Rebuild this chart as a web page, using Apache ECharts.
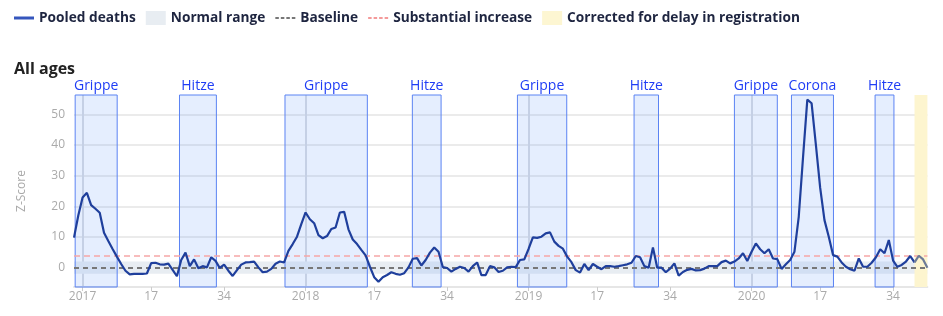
<!DOCTYPE html>
<html><head><meta charset="utf-8">
<script src="https://cdn.jsdelivr.net/npm/echarts@6/dist/echarts.min.js"></script>
<style>html,body{margin:0;padding:0;background:#fff}#c{width:943px;height:316px}</style>
</head><body><div id="c"></div>
<script>
// ISO weeks from 2016-W51 to 2020-W42
const weeksPerYear = {2016: 52, 2017: 52, 2018: 52, 2019: 52, 2020: 53};
const weeks = [];
(function () {
  let y = 2016, w = 51;
  while (!(y === 2020 && w > 42)) {
    weeks.push(y + '-W' + String(w).padStart(2, '0'));
    w++;
    if (w > weeksPerYear[y]) { y++; w = 1; }
  }
})();

const zscores = [
  9.8, 17.0, 22.9, 24.4, 20.4, 19.2, 17.9, 11.4, 8.7, 6.1,
  3.6, 1.2, -1.0, -2.2, -2.0, -2.0, -2.0, -1.9, 1.5, 1.6,
  1.1, 1.0, 1.3, -0.7, -2.8, 2.5, 4.9, 0.5, 2.7, -0.2,
  0.5, 0.1, 3.4, 2.2, -0.1, 1.0, -1.0, -2.7, -0.8, 1.0,
  1.7, 1.8, 2.0, 0.1, -1.5, -1.3, -0.4, 1.3, 2.0, 1.7,
  5.5, 7.7, 10.1, 14.2, 18.0, 15.8, 14.5, 10.6, 9.6, 10.3,
  12.6, 13.1, 18.0, 18.2, 12.5, 9.2, 7.7, 5.8, 4.0, 0.3,
  -3.1, -4.6, -3.1, -2.4, -1.5, -2.0, -2.3, -1.8, 0.1, 2.9,
  3.1, 0.7, 2.5, 4.9, 6.6, 5.2, 0.2, -0.1, -1.3, -0.4,
  0.3, -0.1, -1.3, 0.5, 1.7, -2.4, -2.4, 0.5, 0.1, -1.4,
  -1.0, 0.1, 0.3, 0.2, 2.5, 2.7, 6.1, 9.9, 9.7, 10.1,
  11.2, 11.5, 8.5, 7.1, 6.2, 3.6, 1.8, -0.8, -1.6, 1.2,
  -0.8, 1.2, 0.3, -0.5, 0.5, 0.5, 0.3, 0.5, 0.8, 1.1,
  1.6, 3.8, 3.4, 0.5, 0.0, 6.6, 0.0, 0.0, -1.5, -0.3,
  1.4, -2.6, -1.4, -0.7, -0.4, -0.9, -0.8, -0.3, 0.5, 0.5,
  0.5, 1.8, 2.3, 1.4, 2.0, 3.0, 4.7, 2.2, 5.2, 7.9,
  6.0, 4.7, 6.0, 3.0, 2.8, -0.4, 1.1, 2.5, 5.2, 16.6,
  36.0, 54.8, 53.6, 40.0, 26.0, 15.5, 10.1, 4.1, 3.6, 1.7,
  0.3, -0.5, -1.0, 3.0, 0.3, 0.3, 1.6, 3.4, 6.0, 4.7,
  9.0, 2.3, 0.3, 0.9, 2.0, 3.8, 1.7, 3.9, 2.7, 0.0
];

const tickWeeks = ['2017-W01','2017-W17','2017-W34','2018-W01','2018-W17','2018-W34',
                   '2019-W01','2019-W17','2019-W34','2020-W01','2020-W17','2020-W34'];
const tickLabels = ['2017','17','34','2018','17','34','2019','17','34','2020','17','34'];
const yearWeeks = ['2017-W01','2018-W01','2019-W01','2020-W01'];

// event periods, in week-index units (0 = 2016-W51)
const eventNames = ['Grippe','Hitze','Grippe','Hitze','Grippe','Hitze','Grippe','Corona','Hitze'];
const eventStart = [0.27, 24.6, 49.2, 78.9, 103.4, 130.6, 154.0, 167.3, 186.8];
const eventEnd   = [10.07, 33.2, 68.4, 85.6, 114.9, 136.3, 164.0, 177.1, 191.2];
const correctedFrom = 196;           // week index where delay correction begins
const normalRange = [-2, 2];
const baselineValue = 0;
const substantialIncrease = 4;
const yRange = [-6.3, 56.3];

const lastIdx = weeks.length - 1;
const mainData = [], corrData = [];
zscores.forEach((v, i) => {
  if (i <= correctedFrom) mainData.push([i, v]);
  if (i >= correctedFrom) corrData.push([i, v]);
});

const tickMap = {};
tickWeeks.forEach((w, i) => tickMap[w] = tickLabels[i]);
const FONT = 'Open Sans';
const LFONT = 'Open Sans';
const DASH_ICON = 'path://M0,0H3.5V2H0ZM5.5,0H9V2H5.5ZM11,0H14.5V2H11ZM16.5,0H20V2H16.5Z';

const chart = echarts.init(document.getElementById('c'), null, {renderer: 'canvas'});
chart.setOption({
  animation: false,
  backgroundColor: '#ffffff',
  title: {
    text: 'All ages', left: 9, top: 56,
    textStyle: {fontFamily: LFONT, fontSize: 16, fontWeight: 'bold', color: '#222222'}
  },
  legend: {
    left: 9, top: 6, itemWidth: 20, itemHeight: 14, itemGap: 10,
    textStyle: {fontFamily: LFONT, fontSize: 13.7, fontWeight: 'bold', color: '#1e2540'},
    selectedMode: false,
    data: [
      {name: 'Pooled deaths', icon: 'path://M0,0H20V3H0Z', itemStyle: {color: '#3556bd'}},
      {name: 'Normal range', icon: 'rect', itemStyle: {color: '#e8edf2'}},
      {name: 'Baseline', icon: DASH_ICON, itemStyle: {color: '#777777'}},
      {name: 'Substantial increase', icon: DASH_ICON, itemStyle: {color: '#f49a9a'}},
      {name: 'Corrected for delay in registration', icon: 'rect', itemStyle: {color: '#fdf6d2'}}
    ]
  },
  grid: {left: 74, right: 15.6, top: 95, bottom: 29, outerBoundsMode: 'none', containLabel: false},
  xAxis: [
    {type: 'value', min: 0, max: lastIdx, show: false},
    {
      type: 'category', data: weeks, boundaryGap: false, position: 'bottom',
      axisLine: {show: true, onZero: false, lineStyle: {color: '#e6e6e6', width: 2}},
      axisTick: {show: true, length: 4, interval: (i, v) => v in tickMap, lineStyle: {color: '#cccccc'}},
      axisLabel: {interval: (i, v) => v in tickMap, formatter: v => tickMap[v] || '',
                  color: '#aaaaaa', fontFamily: FONT, fontSize: 12, margin: 4},
      splitLine: {show: true, interval: (i, v) => yearWeeks.indexOf(v) >= 0,
                  lineStyle: {color: '#d8dbe1', width: 2}}
    }
  ],
  yAxis: {
    type: 'value', min: yRange[0], max: yRange[1], splitNumber: 5,
    name: 'Z-Score', nameLocation: 'middle', nameGap: 46,
    nameTextStyle: {color: '#aaaaaa', fontFamily: FONT, fontSize: 12},
    axisLine: {show: false}, axisTick: {show: false},
    axisLabel: {color: '#aaaaaa', fontFamily: FONT, fontSize: 12, margin: 9,
                showMinLabel: false, showMaxLabel: false},
    splitLine: {show: true, showMinLine: false, showMaxLine: false,
                lineStyle: {color: '#ebebeb', width: 2}}
  },
  series: [
    {
      name: 'Normal range', type: 'line', data: [], itemStyle: {color: '#e8edf2'},
      markArea: {silent: true, itemStyle: {color: '#e8edf2'},
                 data: [[{yAxis: normalRange[0]}, {yAxis: normalRange[1]}]]}
    },
    {
      name: 'Corrected for delay in registration', type: 'line', data: [], itemStyle: {color: '#fdf6d2'},
      markArea: {silent: true, itemStyle: {color: '#fdf5cf'},
                 data: [[{xAxis: correctedFrom}, {xAxis: lastIdx}]]}
    },
    {
      name: 'events', type: 'line', data: [],
      markArea: {
        silent: true,
        itemStyle: {color: 'rgba(110,160,250,0.18)', borderColor: '#5b83f3', borderWidth: 1},
        label: {show: true, position: 'top', distance: 1, color: '#1f3df5', fontFamily: FONT, fontSize: 14},
        data: eventNames.map((n, i) => [{name: n, xAxis: eventStart[i]}, {xAxis: eventEnd[i]}])
      }
    },
    {
      name: 'Baseline', type: 'line', data: [], symbol: 'none',
      lineStyle: {color: '#777777', width: 2, type: [5, 4]}, itemStyle: {color: '#777777'},
      markLine: {silent: true, symbol: 'none', label: {show: false},
                 lineStyle: {color: '#777777', width: 2, type: [5, 4]},
                 data: [{yAxis: baselineValue}]}
    },
    {
      name: 'Substantial increase', type: 'line', data: [], symbol: 'none',
      lineStyle: {color: '#f49a9a', width: 2, type: [5, 4]}, itemStyle: {color: '#f49a9a'},
      markLine: {silent: true, symbol: 'none', label: {show: false},
                 lineStyle: {color: '#f6a6a6', width: 1.6, type: [6, 4]},
                 data: [{yAxis: substantialIncrease}]}
    },
    {
      name: 'Pooled deaths', type: 'line', data: mainData, symbol: 'none', showSymbol: false,
      lineStyle: {color: '#1f3f9c', width: 2.2}, itemStyle: {color: '#1f3f9c'}, z: 10
    },
    {
      name: 'corrected', type: 'line', data: corrData, symbol: 'none', showSymbol: false,
      lineStyle: {color: '#6d7b98', width: 2.2}, itemStyle: {color: '#6d7b98'}, z: 10
    }
  ]
});
</script></body></html>
